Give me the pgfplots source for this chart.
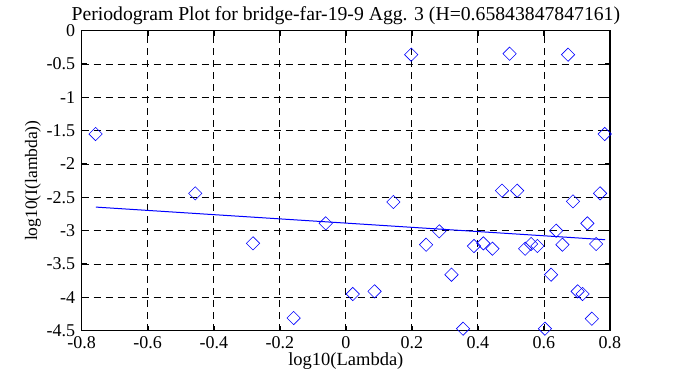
\documentclass[border=0pt]{standalone}
\usepackage{pgfplots}
\pgfplotsset{compat=1.18}
\usepackage{fontspec}
\setmainfont{Liberation Serif}
\begin{document}
\begin{tikzpicture}
\begin{axis}[
  scale only axis, width=528.3pt, height=300pt,
  xmin=-0.8, xmax=0.8, ymin=-4.5, ymax=0,
  xtick={-0.8,-0.6,-0.4,-0.2,0,0.2,0.4,0.6,0.8},
  ytick={-4.5,-4,-3.5,-3,-2.5,-2,-1.5,-1,-0.5,0},
  xticklabels={-0.8,-0.6,-0.4,-0.2,0,0.2,0.4,0.6,0.8},
  yticklabels={-4.5,-4,-3.5,-3,-2.5,-2,-1.5,-1,-0.5,0},
  ticklabel style={font=\fontsize{18}{20}\selectfont},
  grid=major,
  major grid style={black, dash pattern=on 7pt off 5pt, line width=0.9pt},
  axis line style={line width=1.6pt},
  tick style={black, line width=1.6pt},
  major tick length=5pt,
  tick align=inside,
  clip=false,
  title={Periodogram Plot for bridge-far-19-9 Agg. 3 (H=0.65843847847161)},
  title style={font=\fontsize{19.7}{21}\selectfont, yshift=-4pt},
  xlabel={log10(Lambda)},
  ylabel={log10(I(lambda))},
  xlabel style={font=\fontsize{18.5}{21}\selectfont, yshift=3pt},
  ylabel style={font=\fontsize{17.5}{20}\selectfont, yshift=-1pt},
  xticklabel style={yshift=-2pt},
  yticklabel style={xshift=-3pt},
]
\addplot[blue, only marks, mark=square, mark size=4.7pt, mark options={rotate=45, line width=0.6pt}] coordinates {
(-0.758,-1.55) (-0.456,-2.44) (-0.281,-3.19) (-0.158,-4.31) (-0.061,-2.89)
(0.021,-3.95) (0.087,-3.91) (0.144,-2.57) (0.198,-0.36) (0.243,-3.21)
(0.283,-3.01) (0.320,-3.66) (0.355,-4.47) (0.388,-3.23) (0.4165,-3.19)
(0.444,-3.27) (0.473,-2.40) (0.496,-0.345) (0.519,-2.40) (0.543,-3.27)
(0.561,-3.20) (0.580,-3.23) (0.603,-4.47) (0.6215,-3.66) (0.637,-3.00)
(0.656,-3.21) (0.673,-0.36) (0.688,-2.56) (0.702,-3.91) (0.717,-3.95)
(0.7315,-2.89) (0.745,-4.32) (0.758,-3.20) (0.770,-2.44) (0.784,-1.55)
};
\addplot[blue, line width=1pt, no marks] coordinates {(-0.757,-2.646) (0.785,-3.135)};
\end{axis}
\pgfresetboundingbox
\path ([shift={(-81.7pt,-56.3pt)}]current axis.south west) rectangle ++(673pt,387pt);
\end{tikzpicture}
\end{document}
